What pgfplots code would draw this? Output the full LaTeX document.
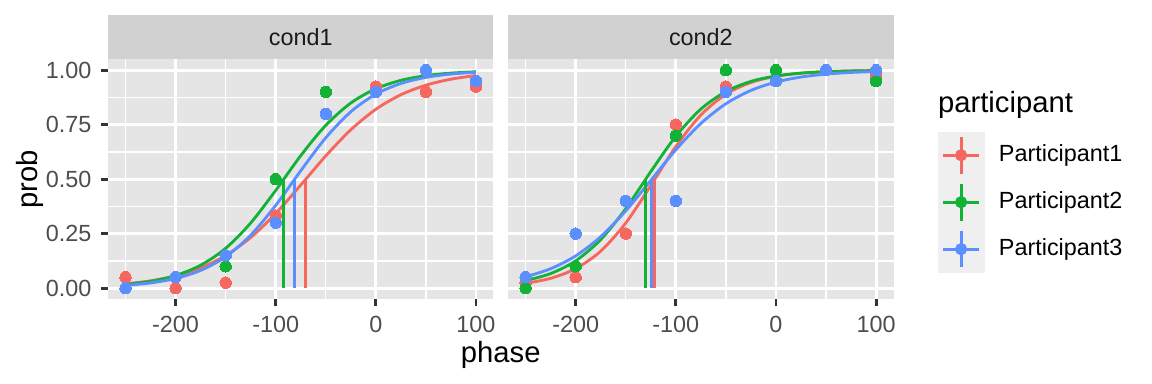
\documentclass[border=0pt]{standalone}
\usepackage{pgfplots}
\pgfplotsset{compat=1.18}
\usepackage{fontspec}
\setmainfont{Liberation Sans}
\definecolor{p1}{HTML}{F5675F}
\definecolor{p2}{HTML}{12B236}
\definecolor{p3}{HTML}{5B8EFF}
\definecolor{panelbg}{HTML}{E5E5E5}
\definecolor{stripbg}{HTML}{D1D1D1}
\definecolor{keybg}{HTML}{EFEFEF}
\definecolor{tickcol}{HTML}{333333}
\definecolor{ticklab}{HTML}{4D4D4D}
\definecolor{striptext}{HTML}{1A1A1A}
\newcommand{\ggkey}[1]{%
  \fill[keybg] (0pt,-8.64pt) rectangle (17.28pt,8.64pt);
  \draw[#1,line width=1.07pt] (8.64pt,-6.9pt) -- (8.64pt,6.9pt);
  \draw[#1,line width=1.07pt] (1.9pt,0pt) -- (15.38pt,0pt);
  \fill[#1] (8.64pt,0pt) circle (2.1pt);}
\pgfplotsset{
  ggpanel/.style={
    scale only axis, width=145.1pt, height=90.2pt,
    anchor=south west, clip=false,
    xmin=-267.5, xmax=117.5, ymin=-0.05, ymax=1.05,
    axis background/.style={fill=panelbg},
    axis line style={draw=none},
    xtick={-200,-100,0,100}, xticklabels={-200,-100,0,100},
    minor xtick={-250,-150,-50,50},
    ytick={0,0.25,0.5,0.75,1}, 
    minor ytick={0.125,0.375,0.625,0.875},
    grid=both,
    major grid style={white,line width=1.07pt},
    minor grid style={white,line width=0.53pt},
    minor tick length=0pt, major tick length=2.75pt,
    tick align=outside, xtick pos=bottom, ytick pos=left,
    major tick style={tickcol,line width=1.07pt},
    ticklabel style={font=\fontsize{8.8}{10}\selectfont, text=ticklab},
  },
  pts/.style={color=#1, only marks, mark=*, mark size=2.15pt, mark options={solid, draw=#1, fill=#1, line width=0pt}, forget plot},
  crv/.style={#1, line width=1.07pt, smooth, no marks, forget plot},
  thr/.style={#1, line width=1.07pt, no marks, forget plot},
}
\begin{document}
\begin{tikzpicture}
\path[use as bounding box] (0,0) rectangle (433.62pt,144.54pt);
% ---------------- cond1 ----------------
\begin{axis}[ggpanel, at={(40.65pt,32pt)},
  yticklabels={0.00,0.25,0.50,0.75,1.00}]
\fill[stripbg] (rel axis cs:0,1) rectangle ([yshift=16.7pt]rel axis cs:1,1);
\node[text=striptext, font=\fontsize{8.8}{10}\selectfont] at ([yshift=8.35pt]rel axis cs:0.5,1) {cond1};
\addplot[pts=p1] coordinates {(-250,0.05) (-200,0) (-150,0.025) (-100,0.333) (-50,0.8) (0,0.925) (50,0.9) (100,0.925)};
\addplot[pts=p2] coordinates {(-250,0) (-200,0.05) (-150,0.1) (-100,0.5) (-50,0.9) (0,0.9) (50,1) (100,0.95)};
\addplot[pts=p3] coordinates {(-250,0) (-200,0.05) (-150,0.15) (-100,0.3) (-50,0.8) (0,0.9) (50,1) (100,0.95)};
\addplot[crv=p1] coordinates {(-250,0.0196) (-225,0.0332) (-200,0.0559) (-175,0.0926) (-150,0.1494) (-125,0.2321) (-100,0.3425) (-75,0.4728) (-50,0.607) (-25,0.7267) (0,0.8209) (25,0.8875) (50,0.9314) (75,0.9590) (100,0.9758)};
\addplot[crv=p2] coordinates {(-250,0.0166) (-225,0.0312) (-200,0.0578) (-175,0.1048) (-150,0.1826) (-125,0.2989) (-100,0.4484) (-75,0.608) (-50,0.7474) (-25,0.8496) (0,0.9151) (25,0.9536) (50,0.9751) (75,0.9868) (100,0.9930)};
\addplot[crv=p3] coordinates {(-250,0.0125) (-225,0.0236) (-200,0.0442) (-175,0.081) (-150,0.1439) (-125,0.2429) (-100,0.3797) (-75,0.5387) (-50,0.6901) (-25,0.8095) (0,0.8902) (25,0.9393) (50,0.9672) (75,0.9825) (100,0.9908)};
\addplot[thr=p1] coordinates {(-70,0) (-70,0.5)};
\addplot[thr=p2] coordinates {(-92,0) (-92,0.5)};
\addplot[thr=p3] coordinates {(-81,0) (-81,0.5)};
\end{axis}
% ---------------- cond2 ----------------
\begin{axis}[ggpanel, at={(191.25pt,32pt)},
  yticklabels={}, ytick style={draw=none},
  legend style={at={(1.1142,0.698)}, anchor=north west, draw=none, fill=none,
    inner sep=0pt, outer sep=0pt, row sep=0pt, column sep=5.4pt,
    font=\fontsize{8.8}{10}\selectfont,
    nodes={inner sep=0pt, anchor=west, text=black}},
  legend cell align=left]
\fill[stripbg] (rel axis cs:0,1) rectangle ([yshift=16.7pt]rel axis cs:1,1);
\node[text=striptext, font=\fontsize{8.8}{10}\selectfont] at ([yshift=8.35pt]rel axis cs:0.5,1) {cond2};
\addplot[pts=p1] coordinates {(-250,0.025) (-200,0.05) (-150,0.25) (-100,0.75) (-50,0.925) (0,1) (50,1) (100,0.975)};
\addplot[pts=p2] coordinates {(-250,0) (-200,0.1) (-150,0.4) (-100,0.7) (-50,1) (0,1) (50,1) (100,0.95)};
\addplot[pts=p3] coordinates {(-250,0.05) (-200,0.25) (-150,0.4) (-100,0.4) (-50,0.9) (0,0.95) (50,1) (100,1)};
\addplot[crv=p1] coordinates {(-250,0.0220) (-225,0.0448) (-200,0.0893) (-175,0.1697) (-150,0.2988) (-125,0.4706) (-100,0.6497) (-75,0.7946) (-50,0.8898) (-25,0.9439) (0,0.9723) (25,0.9865) (50,0.9935) (75,0.9969) (100,0.9985)};
\addplot[crv=p2] coordinates {(-250,0.0345) (-225,0.0667) (-200,0.1252) (-175,0.2227) (-150,0.3645) (-125,0.5347) (-100,0.6970) (-75,0.8217) (-50,0.9022) (-25,0.9487) (0,0.9737) (25,0.9867) (50,0.9933) (75,0.9966) (100,0.9983)};
\addplot[crv=p3] coordinates {(-250,0.0520) (-225,0.0889) (-200,0.1479) (-175,0.2360) (-150,0.3546) (-125,0.4942) (-100,0.6348) (-75,0.7556) (-50,0.8462) (-25,0.9073) (0,0.9457) (25,0.9687) (50,0.9822) (75,0.9899) (100,0.9943)};
\addplot[thr=p1] coordinates {(-121,0) (-121,0.5)};
\addplot[thr=p2] coordinates {(-130,0) (-130,0.5)};
\addplot[thr=p3] coordinates {(-124,0) (-124,0.5)};
\addlegendimage{legend image code/.code={\ggkey{p1}}}
\addlegendentry{Participant1}
\addlegendimage{legend image code/.code={\ggkey{p2}}}
\addlegendentry{Participant2}
\addlegendimage{legend image code/.code={\ggkey{p3}}}
\addlegendentry{Participant3}
\end{axis}
% ---------------- titles ----------------
\node[font=\fontsize{11}{13}\selectfont] at (188.5pt,10.9pt) {phase};
\node[font=\fontsize{11}{13}\selectfont, rotate=90] at (11.3pt,77.1pt) {prob};
\node[font=\fontsize{11}{13}\selectfont, anchor=west, inner sep=0pt] at (352.9pt,105pt) {participant};
\end{tikzpicture}
\end{document}
